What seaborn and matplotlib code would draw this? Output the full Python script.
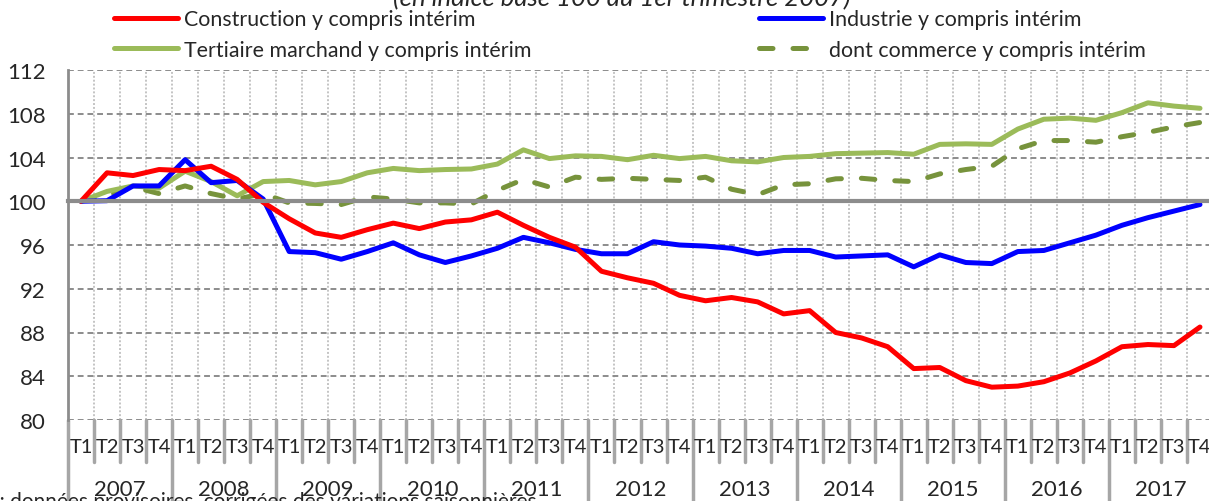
import numpy as np
import pandas as pd
import matplotlib
matplotlib.use("Agg")
import matplotlib.pyplot as plt
from matplotlib.lines import Line2D
import seaborn as sns

# indices trimestriels, base 100 au T1 2007
years = [str(y) for y in range(2007, 2018)]
quarters = ["T1", "T2", "T3", "T4"]

construction = [100, 102.6, 102.35, 102.9, 102.8, 103.2, 102.0, 99.9,
                98.4, 97.1, 96.7, 97.4, 98.0, 97.5, 98.1, 98.3,
                99.0, 97.8, 96.7, 95.8, 93.6, 93.0, 92.5, 91.4,
                90.9, 91.2, 90.8, 89.7, 90.0, 88.0, 87.5, 86.7,
                84.7, 84.8, 83.6, 83.0, 83.1, 83.5, 84.3, 85.4,
                86.7, 86.9, 86.8, 88.5]
industrie = [100, 100.05, 101.4, 101.4, 103.8, 101.7, 101.9, 100.2,
             95.4, 95.3, 94.7, 95.4, 96.2, 95.1, 94.4, 95.0,
             95.7, 96.7, 96.2, 95.6, 95.2, 95.2, 96.3, 96.0,
             95.9, 95.7, 95.2, 95.5, 95.5, 94.9, 95.0, 95.1,
             94.0, 95.1, 94.4, 94.3, 95.4, 95.5, 96.2, 96.9,
             97.8, 98.5, 99.1, 99.7]
tertiaire = [100, 100.9, 101.4, 101.2, 102.75, 101.8, 100.5, 101.8,
             101.9, 101.5, 101.8, 102.6, 103.0, 102.8, 102.9, 102.95,
             103.4, 104.7, 103.9, 104.15, 104.1, 103.8, 104.2, 103.9,
             104.1, 103.7, 103.6, 104.0, 104.1, 104.35, 104.4, 104.45,
             104.3, 105.2, 105.25, 105.2, 106.6, 107.5, 107.6, 107.4,
             108.1, 109.0, 108.7, 108.5]
commerce = [100, 100.5, 101.3, 100.7, 101.4, 100.7, 100.2, 100.7,
            99.85, 99.8, 99.7, 100.4, 100.2, 99.85, 99.85, 99.75,
            101.0, 102.0, 101.3, 102.2, 102.0, 102.1, 102.0, 101.9,
            102.2, 101.1, 100.6, 101.5, 101.6, 102.05, 102.1, 101.9,
            101.8, 102.5, 102.9, 103.2, 104.8, 105.55, 105.55, 105.4,
            105.9, 106.3, 106.8, 107.2]

names = ["Construction y compris intérim", "Industrie y compris intérim",
         "Tertiaire marchand y compris intérim", "dont commerce y compris intérim"]
colors = {names[0]: "#ff0000", names[1]: "#0000ff",
          names[2]: "#9bbb59", names[3]: "#77933c"}
dashes = {names[0]: "", names[1]: "", names[2]: "", names[3]: (2.7, 4.0)}

n = len(construction)
rows = []
for name, vals in zip(names, [construction, industrie, tertiaire, commerce]):
    for i, v in enumerate(vals):
        rows.append({"pos": i, "valeur": v, "serie": name})
df = pd.DataFrame(rows)

sns.set_style("white")
plt.rcParams['font.family'] = ['Lato', 'DejaVu Sans']
FS = 16

fig = plt.figure(figsize=(12.09, 5.02), dpi=100)
ax = fig.add_axes([68 / 1209, 81 / 502, (1213 - 68) / 1209, 350 / 502])

draw_order = [names[3], names[2], names[1], names[0]]
sns.lineplot(data=df, x="pos", y="valeur", hue="serie", style="serie",
             hue_order=draw_order, style_order=draw_order,
             palette=colors, dashes=dashes, linewidth=3.6, legend=False, ax=ax)
for line in ax.lines:
    line.set_dash_capstyle("round")
    line.set_solid_capstyle("round")

gray = "#8c8c8c"
bounds = np.arange(-0.5, n, 1)
ax.set_xticks(bounds)
ax.set_yticks(range(80, 113, 4))
ax.yaxis.grid(True, linestyle=(0, (3, 2)), color=gray, linewidth=1.4)
ax.xaxis.grid(True, linestyle=(0, (1, 1)), color="#c4c4c4", linewidth=1.4)
ax.set_axisbelow(True)

ax.spines["top"].set_visible(False)
ax.spines["right"].set_visible(False)
ax.spines["bottom"].set_position(("data", 100))
ax.spines["bottom"].set_color(gray)
ax.spines["bottom"].set_linewidth(3)
ax.spines["left"].set_color(gray)
ax.spines["left"].set_linewidth(2)
ax.tick_params(axis="x", direction="in", length=7, width=3, color=gray,
               labelbottom=False)
ax.tick_params(axis="y", direction="out", length=6, width=2, color=gray,
               labelsize=FS, pad=10)
ax.set_xlabel("")
ax.set_ylabel("")

# étiquettes trimestres / années sous le graphique
tr = ax.get_xaxis_transform()
for i in range(n):
    ax.text(i, -0.077, quarters[i % 4], transform=tr, ha="center",
            va="center", fontsize=14.5, clip_on=False)
for k, y in enumerate(years):
    ax.text(4 * k + 1.5, -0.197, y, transform=tr, ha="center",
            va="center", fontsize=FS, clip_on=False)
for j, b in enumerate(bounds):
    low = -0.25 if j % 4 == 0 else -0.12
    ax.add_line(Line2D([b, b], [0, low], transform=tr, color="#a6a6a6",
                       linewidth=2.5, clip_on=False))

ax.set_xlim(-0.5, n - 0.5)
ax.set_ylim(80, 112)

# légende sur deux colonnes
def handle(name):
    ls = (0, dashes[name]) if dashes[name] else "-"
    return Line2D([], [], color=colors[name], linewidth=3.6, linestyle=ls,
                  dash_capstyle="round", solid_capstyle="round")

for x0, pair in [(114, [names[0], names[2]]), (759, [names[1], names[3]])]:
    leg = fig.legend([handle(p) for p in pair], pair, loc="upper left",
                     bbox_to_anchor=(x0 / 1209, 1 - 10 / 502), frameon=False,
                     fontsize=15.4, handlelength=3.0, handletextpad=0.25,
                     labelspacing=0.5, borderpad=0, borderaxespad=0)

fig.text(0.514, 1 - 6 / 502, "(en indice base 100 au 1er trimestre 2007)",
         ha="center", va="baseline", fontsize=18.5, style="italic")
fig.text(537 / 1209, 1 - 508 / 502,
         "Note : données provisoires, corrigées des variations saisonnières",
         ha="right", va="baseline", fontsize=15)

fig.savefig("out.png", dpi=100)
